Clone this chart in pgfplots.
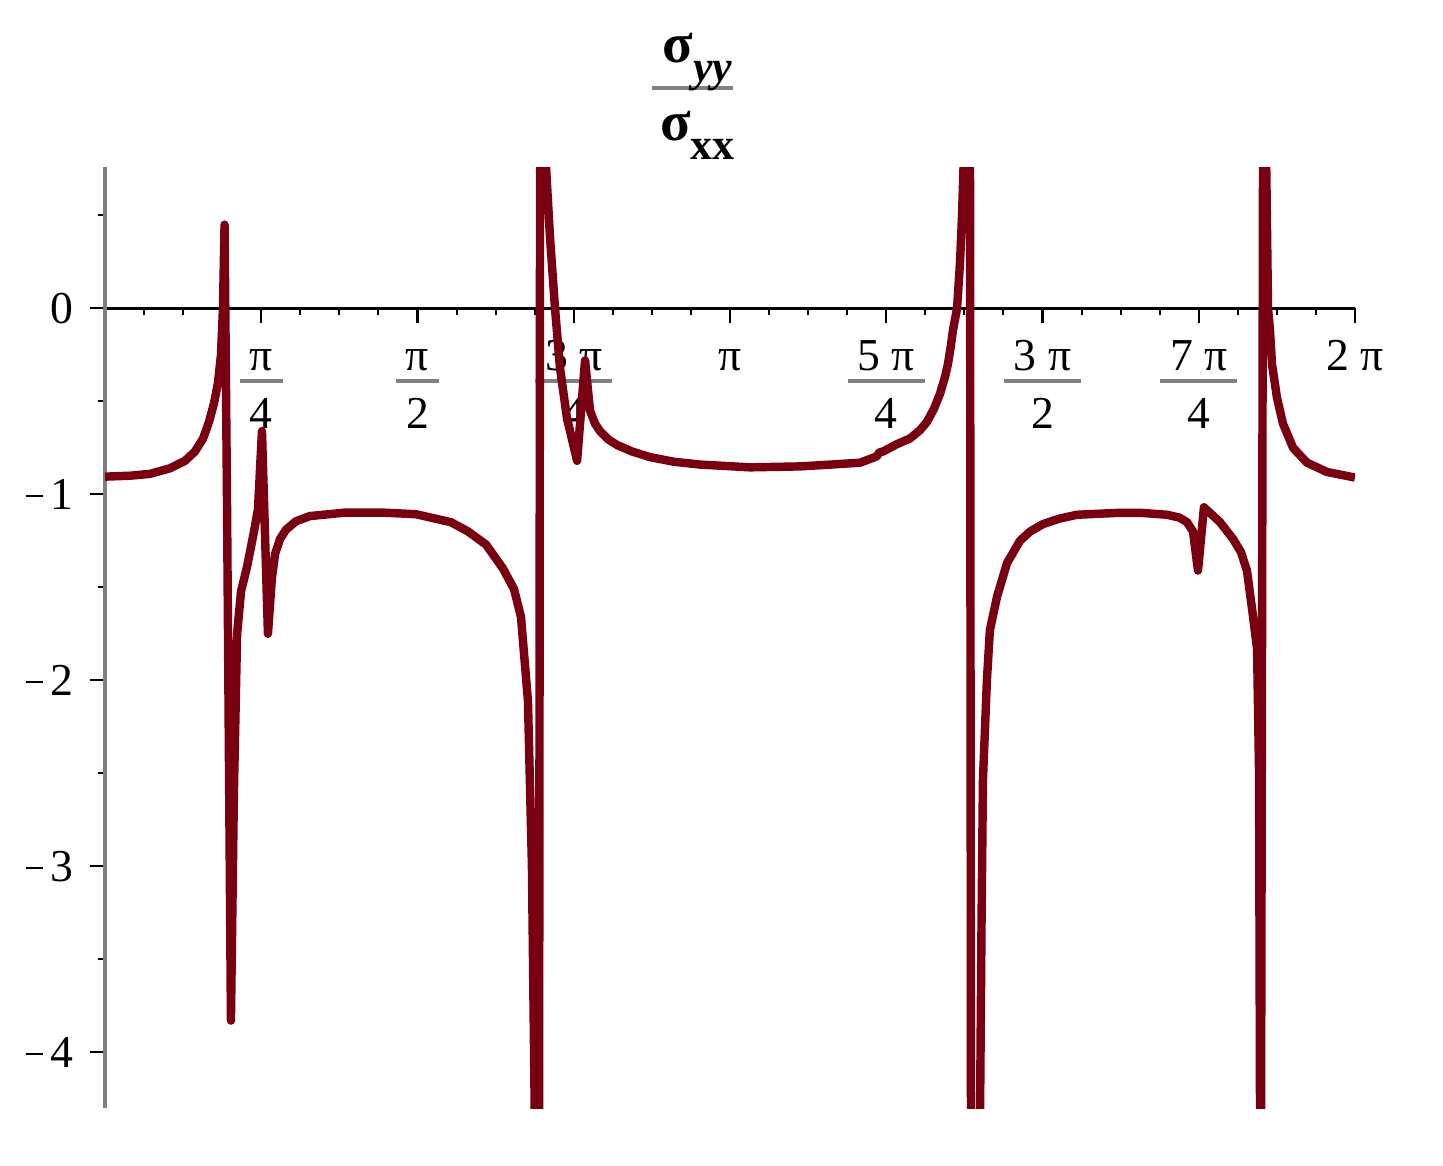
\documentclass[border=0pt]{standalone}
\usepackage{fontspec}
\setmainfont{Liberation Serif}
\usepackage{pgfplots}
\pgfplotsset{compat=1.18}
\usepackage{colortbl}
\definecolor{curve}{RGB}{120,0,16}
\definecolor{fracgray}{RGB}{128,128,128}
% Maple-style stacked fraction with a grey bar
\newcommand{\mfrac}[2]{{\arrayrulecolor{fracgray}\setlength{\arrayrulewidth}{1.1pt}%
  \begin{tabular}{@{\hspace{1mm}}c@{\hspace{1mm}}}#1\\[-2pt]\hline\rule{0pt}{4.5mm}#2\end{tabular}}}
\newcommand{\mone}[1]{\begin{tabular}{@{}c@{}}#1\end{tabular}}
% short Maple-style minus sign
\newcommand{\mminus}{\rule[0.27em]{1.7mm}{0.6pt}\kern0.8mm}
\begin{document}
\begin{tikzpicture}
\useasboundingbox (-1.05,-0.57) rectangle (13.38,11.08);
\begin{axis}[
    scale only axis,
    width=12.5cm, height=9.41cm,
    xmin=0, xmax=6.2832,
    ymin=-4.3, ymax=0.76,
    axis lines=middle,
    x axis line style={-, black, line width=0.8pt},
    y axis line style={-, fracgray, line width=1.1pt},
    hide obscured x ticks=false,
    hide obscured y ticks=false,
    tick align=outside,
    major tick length=1.5mm,
    minor tick length=0.7mm,
    tick style={black, line width=0.6pt},
    xtick={0.7854,1.5708,2.3562,3.1416,3.9270,4.7124,5.4978,6.2832},
    xticklabels={
      {\mfrac{π}{4}},{\mfrac{π}{2}},{\mfrac{3 π}{4}},{\mone{π}},
      {\mfrac{5 π}{4}},{\mfrac{3 π}{2}},{\mfrac{7 π}{4}},{\mone{2 π}}},
    minor xtick={0.19635,0.3927,0.58905,0.98175,1.1781,1.37445,1.76715,1.9635,
      2.15985,2.55255,2.7489,2.94525,3.33795,3.5343,3.73065,4.12335,4.3197,
      4.51605,4.90875,5.1051,5.30145,5.69415,5.8905,6.08685},
    ytick={-4,-3,-2,-1,0},
    yticklabels={{\mminus 4},{\mminus 3},{\mminus 2},{\mminus 1},{0}},
    minor ytick={-3.5,-2.5,-1.5,-0.5,0.5},
    ticklabel style={font=\fontsize{13}{15}\selectfont},
    xticklabel style={anchor=north, yshift=0.2mm},
    yticklabel style={anchor=east, xshift=-0.4mm},
    clip mode=individual,
]
\addplot[curve, line width=2.4pt, line join=round] coordinates {
(0,-0.905)(0.126,-0.90)(0.226,-0.89)(0.327,-0.86)(0.402,-0.82)(0.452,-0.77)
(0.493,-0.70)(0.523,-0.61)(0.548,-0.51)(0.568,-0.40)(0.583,-0.25)(0.593,0.0)
(0.601,0.45)
(0.613,-1.0)(0.633,-3.83)(0.648,-2.6)(0.664,-1.75)(0.684,-1.52)(0.714,-1.39)
(0.749,-1.20)(0.769,-1.08)(0.789,-0.66)(0.819,-1.75)(0.839,-1.45)(0.855,-1.32)
(0.880,-1.24)(0.910,-1.19)(0.960,-1.145)(1.030,-1.117)(1.211,-1.098)
(1.387,-1.098)(1.563,-1.107)(1.739,-1.15)(1.825,-1.20)(1.915,-1.27)
(2.001,-1.40)(2.056,-1.51)(2.091,-1.66)(2.126,-2.11)(2.146,-3.0)(2.161,-4.4)
(2.182,-4.4)(2.187,0.85)(2.212,0.85)(2.237,0.38)(2.262,0.0)(2.287,-0.32)
(2.322,-0.59)(2.373,-0.82)(2.413,-0.28)(2.438,-0.55)(2.463,-0.62)(2.488,-0.66)
(2.530,-0.705)(2.574,-0.735)(2.650,-0.77)(2.739,-0.80)(2.860,-0.825)
(2.991,-0.84)(3.242,-0.855)(3.493,-0.85)(3.650,-0.84)(3.795,-0.83)
(3.870,-0.80)(3.881,-0.795)(3.891,-0.775)(3.911,-0.77)(3.981,-0.73)
(4.046,-0.70)(4.097,-0.655)(4.132,-0.61)(4.167,-0.54)(4.197,-0.46)
(4.222,-0.37)(4.237,-0.30)(4.252,-0.20)(4.262,-0.12)(4.283,0.0)(4.298,0.25)
(4.308,0.5)(4.318,0.85)(4.348,0.85)(4.353,-4.4)(4.398,-4.4)(4.406,-3.3)
(4.413,-2.54)(4.433,-2.0)(4.448,-1.73)(4.484,-1.55)(4.534,-1.37)(4.599,-1.25)
(4.650,-1.20)(4.715,-1.16)(4.800,-1.13)(4.886,-1.11)(5.087,-1.10)(5.212,-1.10)
(5.338,-1.11)(5.400,-1.125)(5.439,-1.15)(5.469,-1.20)(5.494,-1.41)(5.524,-1.07)
(5.605,-1.15)(5.670,-1.24)(5.710,-1.31)(5.740,-1.41)(5.770,-1.65)(5.791,-1.83)
(5.801,-2.5)(5.806,-4.4)(5.811,-4.4)(5.821,0.85)(5.836,0.85)(5.846,0.0)
(5.856,-0.12)(5.866,-0.30)(5.891,-0.48)(5.921,-0.62)(5.972,-0.75)(6.042,-0.83)
(6.143,-0.88)(6.283,-0.91)
};
\coordinate (T) at ([yshift=0.79cm]axis cs:2.953,0.76);
\end{axis}
% title: sigma_yy over sigma_xx, Maple style
\draw[fracgray, line width=1.2pt] ([xshift=-4.05mm]T) -- ([xshift=4.05mm]T);
\node[anchor=base, inner sep=0pt, font=\fontsize{16}{19}\selectfont\bfseries]
  at ([xshift=0.5mm, yshift=2.6mm]T)
  {σ\raisebox{-5.5pt}{\fontsize{12.5}{14}\selectfont\textit{yy}}};
\node[anchor=base, inner sep=0pt, font=\fontsize{16}{19}\selectfont\bfseries]
  at ([xshift=0.5mm, yshift=-5.2mm]T)
  {σ\raisebox{-5.5pt}{\fontsize{12.5}{14}\selectfont xx}};
\end{tikzpicture}
\end{document}
